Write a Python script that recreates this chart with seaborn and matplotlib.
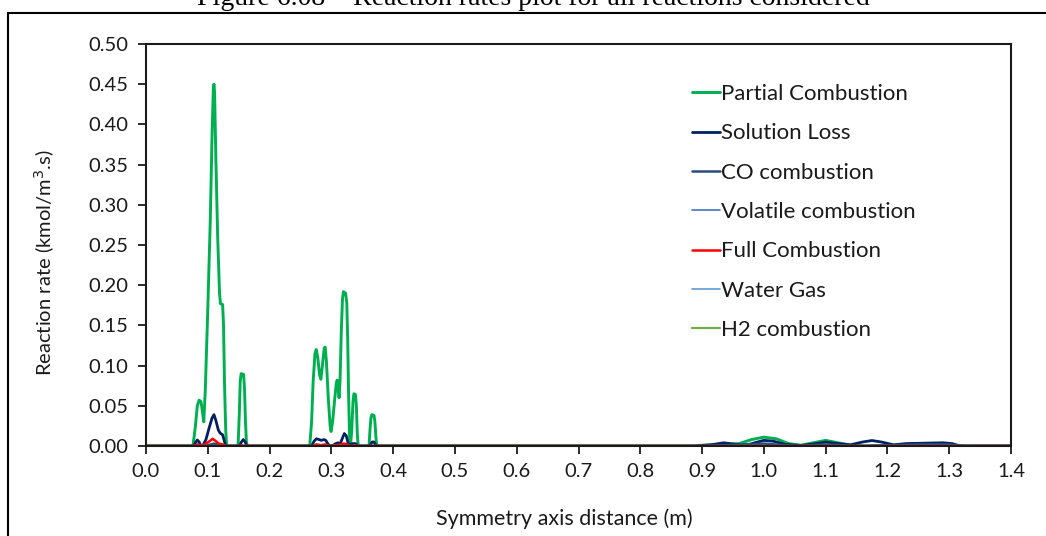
import matplotlib
matplotlib.use("Agg")
import matplotlib.pyplot as plt
import pandas as pd
import seaborn as sns
from matplotlib.patches import Rectangle

# Reaction rate profiles along the symmetry axis (distance in m, rate in kmol/m3.s)
partial_x = [0.0, 0.076, 0.080, 0.083, 0.086, 0.089, 0.091, 0.0935, 0.096, 0.100, 0.104,
             0.107, 0.109, 0.110, 0.111, 0.113, 0.116, 0.119, 0.1205, 0.124, 0.1255,
             0.127, 0.129, 0.1305, 0.149, 0.151, 0.1525, 0.154, 0.158, 0.1595, 0.161,
             0.1625, 0.164, 0.265, 0.268, 0.2705, 0.2735, 0.2755, 0.278, 0.281, 0.283,
             0.2855, 0.2885, 0.290, 0.292, 0.295, 0.298, 0.2995, 0.302, 0.305, 0.308,
             0.3095, 0.311, 0.3125, 0.314, 0.316, 0.318, 0.3195, 0.323, 0.325, 0.3265,
             0.328, 0.3295, 0.331, 0.333, 0.335, 0.3365, 0.339, 0.3405, 0.342, 0.3435,
             0.361, 0.3625, 0.364, 0.3655, 0.369, 0.3705, 0.372, 0.3735, 0.886, 0.90,
             0.93, 0.96, 0.98, 1.00, 1.02, 1.04, 1.06, 1.08, 1.10, 1.12, 1.14, 1.16,
             1.22, 1.24, 1.28, 1.31, 1.33, 1.40]
partial_y = [0.0, 0.0, 0.025, 0.050, 0.057, 0.055, 0.045, 0.030, 0.070, 0.170, 0.280,
             0.390, 0.445, 0.450, 0.440, 0.360, 0.260, 0.190, 0.177, 0.176, 0.150,
             0.080, 0.020, 0.0, 0.0, 0.040, 0.080, 0.090, 0.089, 0.070, 0.030,
             0.005, 0.0, 0.0, 0.030, 0.080, 0.115, 0.120, 0.110, 0.088, 0.083,
             0.100, 0.122, 0.123, 0.105, 0.060, 0.025, 0.018, 0.030, 0.055, 0.078,
             0.082, 0.072, 0.060, 0.080, 0.140, 0.183, 0.192, 0.190, 0.178, 0.130,
             0.060, 0.010, 0.0, 0.020, 0.055, 0.065, 0.064, 0.050, 0.015, 0.0,
             0.0, 0.020, 0.035, 0.039, 0.038, 0.030, 0.012, 0.0, 0.0, 0.001,
             0.002, 0.003, 0.008, 0.011, 0.009, 0.003, 0.001, 0.004, 0.007, 0.004, 0.001, 0.0,
             0.0, 0.003, 0.003, 0.001, 0.0, 0.0]

solution_x = [0.0, 0.077, 0.080, 0.083, 0.086, 0.089, 0.092, 0.097, 0.102, 0.107, 0.110,
              0.113, 0.117, 0.120, 0.124, 0.1265, 0.129, 0.151, 0.1545, 0.1575, 0.1605,
              0.163, 0.268, 0.272, 0.276, 0.280, 0.284, 0.288, 0.291, 0.295, 0.298,
              0.303, 0.307, 0.311, 0.314, 0.317, 0.321, 0.324, 0.327, 0.330, 0.334,
              0.339, 0.343, 0.362, 0.366, 0.369, 0.3725, 0.89, 0.915, 0.935, 0.955,
              0.97, 0.985, 1.00, 1.015, 1.035, 1.06, 1.085, 1.10, 1.12, 1.14, 1.16,
              1.175, 1.19, 1.21, 1.23, 1.26, 1.29, 1.305, 1.317, 1.40]
solution_y = [0.0, 0.0, 0.004, 0.0075, 0.005, 0.0, 0.0005, 0.008, 0.022, 0.035, 0.039,
              0.032, 0.020, 0.016, 0.014, 0.007, 0.0, 0.0, 0.005, 0.008, 0.005,
              0.0, 0.0, 0.006, 0.009, 0.008, 0.007, 0.008, 0.007, 0.002, 0.0,
              0.001, 0.003, 0.004, 0.002, 0.008, 0.0155, 0.013, 0.004, 0.001, 0.003,
              0.003, 0.0, 0.0, 0.005, 0.005, 0.0, 0.0, 0.0015, 0.004, 0.002,
              0.0005, 0.004, 0.007, 0.006, 0.002, 0.0005, 0.003, 0.005, 0.003, 0.0015, 0.005,
              0.0068, 0.005, 0.0015, 0.003, 0.0035, 0.004, 0.003, 0.0, 0.0]

co_x = [0.0, 0.095, 0.110, 0.125, 0.30, 0.321, 0.33, 0.90, 1.00, 1.05, 1.10, 1.15, 1.25, 1.30, 1.32, 1.40]
co_y = [0.0, 0.0, 0.003, 0.0, 0.0, 0.002, 0.0, 0.0, 0.003, 0.0, 0.002, 0.0, 0.002, 0.002, 0.0, 0.0]

volatile_x = [0.0, 1.40]
volatile_y = [0.0, 0.0]

full_x = [0.0, 0.078, 0.083, 0.088, 0.095, 0.103, 0.108, 0.113, 0.118, 0.124, 0.129,
          0.152, 0.155, 0.158, 0.270, 0.276, 0.283, 0.290, 0.296, 0.310, 0.316,
          0.320, 0.326, 0.330, 0.335, 0.338, 0.343, 1.40]
full_y = [0.0, 0.0, 0.002, 0.0005, 0.002, 0.006, 0.009, 0.006, 0.003, 0.002, 0.0,
          0.0, 0.001, 0.0, 0.0, 0.002, 0.001, 0.002, 0.0, 0.001, 0.002,
          0.003, 0.002, 0.0, 0.0, 0.001, 0.0, 0.0]

water_x = [0.0, 1.40]
water_y = [0.0, 0.0]

h2_x = [0.0, 1.335]
h2_y = [0.0, 0.0]

reactions = ["Partial Combustion", "Solution Loss", "CO combustion", "Volatile combustion",
             "Full Combustion", "Water Gas", "H2 combustion"]
series_x = [partial_x, solution_x, co_x, volatile_x, full_x, water_x, h2_x]
series_y = [partial_y, solution_y, co_y, volatile_y, full_y, water_y, h2_y]

colors = ["#00B050", "#002060", "#2C4A7C", "#4472C4", "#FF0000", "#5B9BD5", "#70AD47"]
widths = [2.1, 2.0, 1.8, 1.2, 1.8, 1.2, 1.6]

x_ticks = [0.0, 0.1, 0.2, 0.3, 0.4, 0.5, 0.6, 0.7, 0.8, 0.9, 1.0, 1.1, 1.2, 1.3, 1.4]
y_ticks = [0.00, 0.05, 0.10, 0.15, 0.20, 0.25, 0.30, 0.35, 0.40, 0.45, 0.50]

df = pd.concat(
    [pd.DataFrame({"distance": xs, "rate": ys, "reaction": name})
     for name, xs, ys in zip(reactions, series_x, series_y)],
    ignore_index=True,
)

sns.set_theme(style="white")
plt.rcParams["font.family"] = ["Lato", "DejaVu Sans"]

W, H = 1046, 536
fig = plt.figure(figsize=(W / 100, H / 100), dpi=100)
ax = fig.add_axes([146 / W, 1 - 446 / H, 865 / W, 402 / H])

for name, col, lw in zip(reactions, colors, widths):
    sns.lineplot(data=df[df["reaction"] == name], x="distance", y="rate",
                 color=col, linewidth=lw, label=name, ax=ax,
                 sort=False, estimator=None)

ax.set_xlim(0, 1.4)
ax.set_ylim(0, 0.5)
ax.set_xticks(x_ticks)
ax.set_xticklabels([f"{v:.1f}" for v in x_ticks])
ax.set_yticks(y_ticks)
ax.set_yticklabels([f"{v:.2f}" for v in y_ticks])

for s in ax.spines.values():
    s.set_color("#1a1a1a")
    s.set_linewidth(1.5)

ax.tick_params(axis="both", which="major", direction="out", length=5.5, width=1.3,
               color="#1a1a1a", labelsize=14.5, labelcolor="#1a1a1a")
ax.tick_params(axis="y", left=True, pad=7)
ax.tick_params(axis="x", bottom=True, pad=7)

ax.set_xlabel("Symmetry axis distance (m)", fontsize=15.5, color="#1a1a1a")
ax.set_ylabel("Reaction rate (kmol/m$^3$.s)", fontsize=14.5, color="#1a1a1a")
ax.xaxis.set_label_coords(0.484, -0.155)
ax.yaxis.set_label_coords(-0.103, 0.455)

leg = ax.legend(loc="upper left", bbox_to_anchor=(692 / W, 1 - 84 / H),
                bbox_transform=fig.transFigure, frameon=False, fontsize=16,
                handlelength=1.26, handletextpad=0.05, labelspacing=0.87,
                borderpad=0, borderaxespad=0)
for t in leg.get_texts():
    t.set_color("#1a1a1a")

# Outer frame and caption
fig.patches.append(Rectangle((8 / W, -0.1), 1.2, 1.1 - 13 / H,
                             transform=fig.transFigure, fill=False,
                             edgecolor="black", linewidth=1.5))
fig.text(533 / W, 1 - 5 / H,
         "Figure 6.08 \u2013 Reaction rates plot for all reactions considered",
         ha="center", va="baseline", fontsize=20, family="Liberation Serif",
         color="black")

fig.savefig("out.png", dpi=100)
